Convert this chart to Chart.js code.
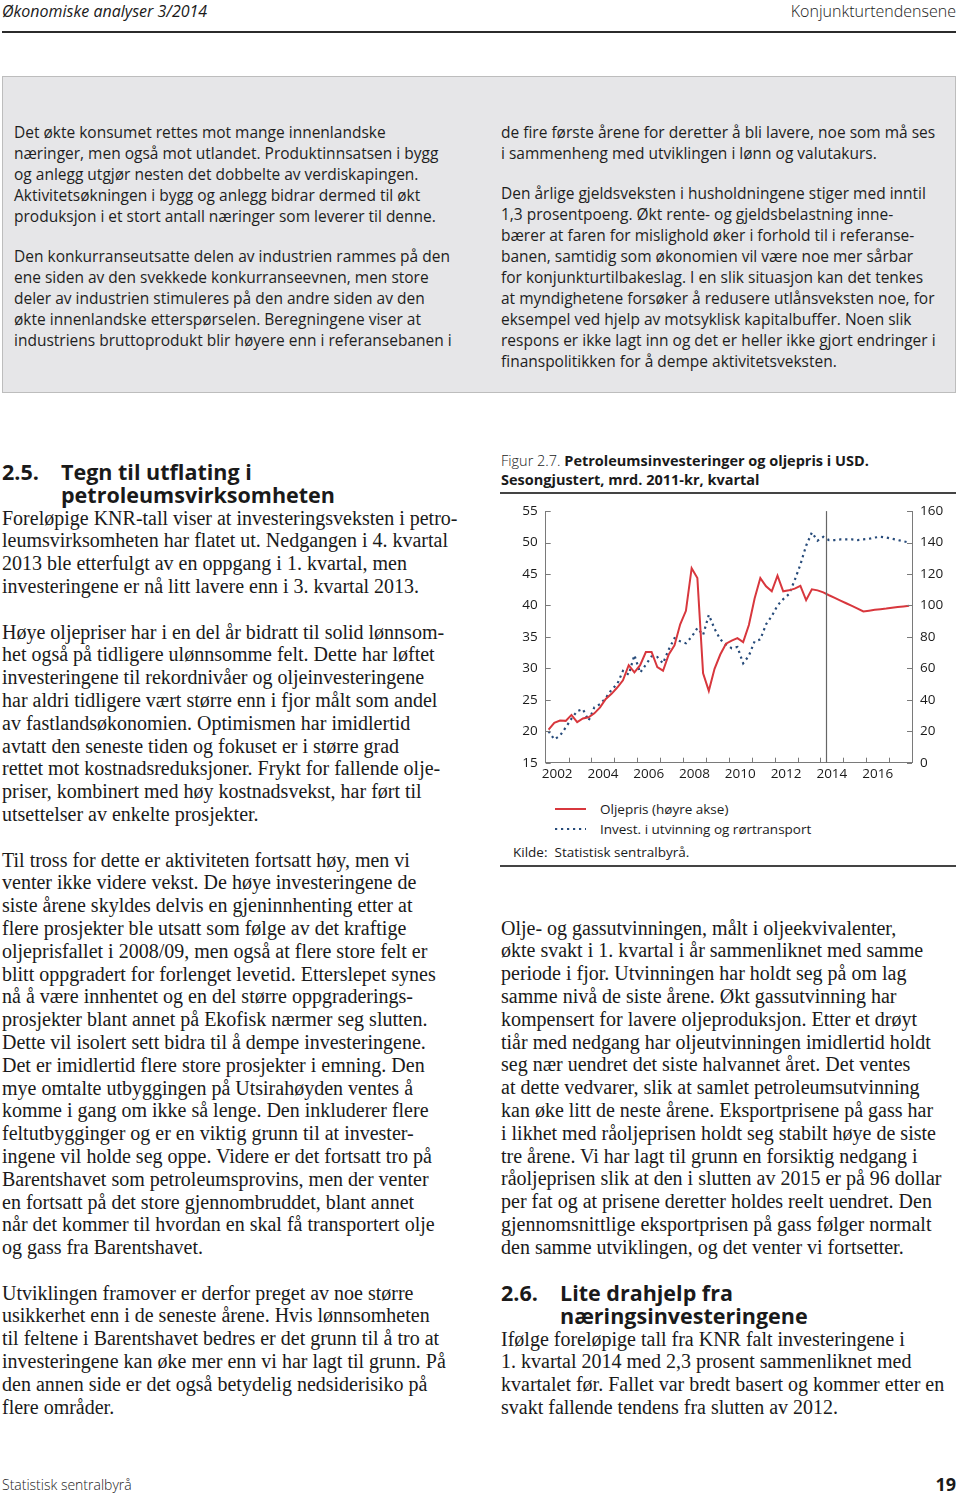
<!DOCTYPE html>
<html lang="no">
<head>
<meta charset="utf-8">
<script src="https://cdn.jsdelivr.net/npm/chart.js@4.4.1/dist/chart.umd.min.js"></script>
<style>
  body { margin: 0; width: 960px; height: 1497px; background: #fff; color: #1a1a1a; position: relative; overflow: hidden; }
  .abs { position: absolute; }
  .ln { white-space: nowrap; }
  .hdr { font-family: "Open Sans", sans-serif; font-size: 16px; top: 0; }
  .rule { position: absolute; background: #2b2b2b; }
  .box { left: 2px; top: 76px; width: 952px; height: 315px; background: #e6e6e8; border: 1px solid #bdbdbd; }
  .sans { font-family: "Open Sans", sans-serif; font-size: 15.5px; line-height: 21px; color: #1e1e1e; }
  .sans p { margin: 0 0 19px 0; }
  .serif { font-family: "Liberation Serif", serif; font-size: 20px; line-height: 22.8px; color: #1a1a1a; }
  .serif p { margin: 0 0 22.8px 0; }
  .head { font-family: "Open Sans", sans-serif; font-weight: 700; font-size: 21.5px; line-height: 23px; }
  .head .num { position: absolute; left: 0; }
  .head .txt { margin-left: 59px; }
  .fig { font-family: "Open Sans", sans-serif; font-size: 14.5px; line-height: 19px; color: #1a1a1a; }
  .fig .light { font-weight: 300; }
  .fig b { font-weight: 700; }
  .leg { font-family: "Open Sans", sans-serif; font-size: 13.5px; color: #1a1a1a; }
</style>
</head>
<body>

<div class="abs hdr ln" style="left:2px; font-style:italic;">Økonomiske analyser 3/2014</div>
<div class="abs hdr ln" style="right:4px; font-weight:300;">Konjunkturtendensene</div>
<div class="rule" style="left:2px; top:31px; width:954px; height:2px;"></div>

<div class="abs box"></div>
<div class="abs sans" style="left:14px; top:121.5px;">
  <p>
    <span class="ln">Det økte konsumet rettes mot mange innenlandske</span><br>
    <span class="ln">næringer, men også mot utlandet. Produktinnsatsen i bygg</span><br>
    <span class="ln">og anlegg utgjør nesten det dobbelte av verdiskapingen.</span><br>
    <span class="ln">Aktivitetsøkningen i bygg og anlegg bidrar dermed til økt</span><br>
    <span class="ln">produksjon i et stort antall næringer som leverer til denne.</span>
  </p>
  <p>
    <span class="ln">Den konkurranseutsatte delen av industrien rammes på den</span><br>
    <span class="ln">ene siden av den svekkede konkurranseevnen, men store</span><br>
    <span class="ln">deler av industrien stimuleres på den andre siden av den</span><br>
    <span class="ln">økte innenlandske etterspørselen. Beregningene viser at</span><br>
    <span class="ln">industriens bruttoprodukt blir høyere enn i referansebanen i</span>
  </p>
</div>
<div class="abs sans" style="left:501px; top:121.5px;">
  <p>
    <span class="ln">de fire første årene for deretter å bli lavere, noe som må ses</span><br>
    <span class="ln">i sammenheng med utviklingen i lønn og valutakurs.</span>
  </p>
  <p>
    <span class="ln">Den årlige gjeldsveksten i husholdningene stiger med inntil</span><br>
    <span class="ln">1,3 prosentpoeng. Økt rente- og gjeldsbelastning inne-</span><br>
    <span class="ln">bærer at faren for mislighold øker i forhold til i referanse-</span><br>
    <span class="ln">banen, samtidig som økonomien vil være noe mer sårbar</span><br>
    <span class="ln">for konjunkturtilbakeslag. I en slik situasjon kan det tenkes</span><br>
    <span class="ln">at myndighetene forsøker å redusere utlånsveksten noe, for</span><br>
    <span class="ln">eksempel ved hjelp av motsyklisk kapitalbuffer. Noen slik</span><br>
    <span class="ln">respons er ikke lagt inn og det er heller ikke gjort endringer i</span><br>
    <span class="ln">finanspolitikken for å dempe aktivitetsveksten.</span>
  </p>
</div>

<!-- venstre spalte -->
<div class="abs head" style="left:2px; top:459.5px; width:460px;">
  <span class="num">2.5.</span>
  <div class="txt ln">Tegn til utflating i</div>
  <div class="txt ln">petroleumsvirksomheten</div>
</div>
<div class="abs serif" style="left:2px; top:506.6px;">
  <p>
    <span class="ln">Foreløpige KNR-tall viser at investeringsveksten i petro-</span><br>
    <span class="ln">leumsvirksomheten har flatet ut. Nedgangen i 4. kvartal</span><br>
    <span class="ln">2013 ble etterfulgt av en oppgang i 1. kvartal, men</span><br>
    <span class="ln">investeringene er nå litt lavere enn i 3. kvartal 2013.</span>
  </p>
  <p>
    <span class="ln">Høye oljepriser har i en del år bidratt til solid lønnsom-</span><br>
    <span class="ln">het også på tidligere ulønnsomme felt. Dette har løftet</span><br>
    <span class="ln">investeringene til rekordnivåer og oljeinvesteringene</span><br>
    <span class="ln">har aldri tidligere vært større enn i fjor målt som andel</span><br>
    <span class="ln">av fastlandsøkonomien. Optimismen har imidlertid</span><br>
    <span class="ln">avtatt den seneste tiden og fokuset er i større grad</span><br>
    <span class="ln">rettet mot kostnadsreduksjoner. Frykt for fallende olje-</span><br>
    <span class="ln">priser, kombinert med høy kostnadsvekst, har ført til</span><br>
    <span class="ln">utsettelser av enkelte prosjekter.</span>
  </p>
  <p>
    <span class="ln">Til tross for dette er aktiviteten fortsatt høy, men vi</span><br>
    <span class="ln">venter ikke videre vekst. De høye investeringene de</span><br>
    <span class="ln">siste årene skyldes delvis en gjeninnhenting etter at</span><br>
    <span class="ln">flere prosjekter ble utsatt som følge av det kraftige</span><br>
    <span class="ln">oljeprisfallet i 2008/09, men også at flere store felt er</span><br>
    <span class="ln">blitt oppgradert for forlenget levetid. Etterslepet synes</span><br>
    <span class="ln">nå å være innhentet og en del større oppgraderings-</span><br>
    <span class="ln">prosjekter blant annet på Ekofisk nærmer seg slutten.</span><br>
    <span class="ln">Dette vil isolert sett bidra til å dempe investeringene.</span><br>
    <span class="ln">Det er imidlertid flere store prosjekter i emning. Den</span><br>
    <span class="ln">mye omtalte utbyggingen på Utsirahøyden ventes å</span><br>
    <span class="ln">komme i gang om ikke så lenge. Den inkluderer flere</span><br>
    <span class="ln">feltutbygginger og er en viktig grunn til at invester-</span><br>
    <span class="ln">ingene vil holde seg oppe. Videre er det fortsatt tro på</span><br>
    <span class="ln">Barentshavet som petroleumsprovins, men der venter</span><br>
    <span class="ln">en fortsatt på det store gjennombruddet, blant annet</span><br>
    <span class="ln">når det kommer til hvordan en skal få transportert olje</span><br>
    <span class="ln">og gass fra Barentshavet.</span>
  </p>
  <p>
    <span class="ln">Utviklingen framover er derfor preget av noe større</span><br>
    <span class="ln">usikkerhet enn i de seneste årene. Hvis lønnsomheten</span><br>
    <span class="ln">til feltene i Barentshavet bedres er det grunn til å tro at</span><br>
    <span class="ln">investeringene kan øke mer enn vi har lagt til grunn. På</span><br>
    <span class="ln">den annen side er det også betydelig nedsiderisiko på</span><br>
    <span class="ln">flere områder.</span>
  </p>
</div>

<!-- figur -->
<div class="abs fig" style="left:501px; top:451px;">
  <span class="ln"><span class="light">Figur 2.7.</span> <b>Petroleumsinvesteringer og oljepris i USD.</b></span><br>
  <span class="ln"><b>Sesongjustert, mrd. 2011-kr, kvartal</b></span>
</div>
<div class="rule" style="left:500px; top:492px; width:456px; height:1.5px; background:#444;"></div>
<div class="abs" style="left:500px; top:495px; width:460px; height:295px;">
  <canvas id="oilChart" width="460" height="295"></canvas>
</div>
<div class="abs leg" id="legend" style="left:555px; top:799px;"></div>
<div class="abs leg ln" style="left:513px; top:843px;">Kilde:&nbsp; Statistisk sentralbyrå.</div>
<div class="rule" style="left:500px; top:865px; width:456px; height:2px; background:#444;"></div>

<!-- høyre spalte -->
<div class="abs serif" style="left:501px; top:916.6px;">
  <p>
    <span class="ln">Olje- og gassutvinningen, målt i oljeekvivalenter,</span><br>
    <span class="ln">økte svakt i 1. kvartal i år sammenliknet med samme</span><br>
    <span class="ln">periode i fjor. Utvinningen har holdt seg på om lag</span><br>
    <span class="ln">samme nivå de siste årene. Økt gassutvinning har</span><br>
    <span class="ln">kompensert for lavere oljeproduksjon. Etter et drøyt</span><br>
    <span class="ln">tiår med nedgang har oljeutvinningen imidlertid holdt</span><br>
    <span class="ln">seg nær uendret det siste halvannet året. Det ventes</span><br>
    <span class="ln">at dette vedvarer, slik at samlet petroleumsutvinning</span><br>
    <span class="ln">kan øke litt de neste årene. Eksportprisene på gass har</span><br>
    <span class="ln">i likhet med råoljeprisen holdt seg stabilt høye de siste</span><br>
    <span class="ln">tre årene. Vi har lagt til grunn en forsiktig nedgang i</span><br>
    <span class="ln">råoljeprisen slik at den i slutten av 2015 er på 96 dollar</span><br>
    <span class="ln">per fat og at prisene deretter holdes reelt uendret. Den</span><br>
    <span class="ln">gjennomsnittlige eksportprisen på gass følger normalt</span><br>
    <span class="ln">den samme utviklingen, og det venter vi fortsetter.</span>
  </p>
</div>
<div class="abs head" style="left:501px; top:1280.5px; width:460px;">
  <span class="num">2.6.</span>
  <div class="txt ln">Lite drahjelp fra</div>
  <div class="txt ln">næringsinvesteringene</div>
</div>
<div class="abs serif" style="left:501px; top:1327.6px;">
  <p>
    <span class="ln">Ifølge foreløpige tall fra KNR falt investeringene i</span><br>
    <span class="ln">1. kvartal 2014 med 2,3 prosent sammenliknet med</span><br>
    <span class="ln">kvartalet før. Fallet var bredt basert og kommer etter en</span><br>
    <span class="ln">svakt fallende tendens fra slutten av 2012.</span>
  </p>
</div>

<div class="abs ln" style="left:2px; top:1475px; font-family:'Open Sans',sans-serif; font-size:14px; font-weight:300;">Statistisk sentralbyrå</div>
<div class="abs ln" style="right:4px; top:1472px; font-family:'Open Sans',sans-serif; font-size:18px; font-weight:700;">19</div>

<script>
// Kvartalstall 2002K1-2017K4 (fra 2014K2 er det prognoser)
const firstYear = 2002;
const lastYear = 2018;
const forecastStart = 2014.25;
const labelYears = [2002, 2004, 2006, 2008, 2010, 2012, 2014, 2016];
const leftTicks = [15, 20, 25, 30, 35, 40, 45, 50, 55];
const rightTicks = [0, 20, 40, 60, 80, 100, 120, 140, 160];

// Oljepris, USD per fat (høyre akse)
const oilPrice = [
  21.0, 25.4, 26.8, 26.6,
  30.4, 25.8, 28.1, 28.9,
  31.4, 35.2, 40.5, 43.8,
  47.8, 52.4, 62.0, 57.4,
  62.0, 70.4, 70.4, 60.8,
  58.5, 68.8, 74.6, 88.0,
  96.6, 123.7, 117.4, 56.8,
  45.7, 59.7, 68.8, 75.7,
  77.6, 79.2, 76.7, 87.6,
  104.4, 117.4, 112.2, 109.0,
  119.0, 109.0, 109.6, 110.7,
  112.4, 103.4, 110.3, 109.6,
  108.3, 106.5, 104.8, 103.1,
  101.4, 99.7, 98.0, 96.2,
  96.7, 97.2, 97.6, 98.0,
  98.5, 99.0, 99.4, 99.8
];

// Investeringer i utvinning og rørtransport, mrd. 2011-kr (venstre akse)
const investment = [
  20.0, 18.7, 19.3, 20.6,
  22.0, 23.2, 23.5, 21.7,
  23.8, 24.3, 25.3, 26.6,
  27.5, 29.6, 29.0, 32.1,
  29.3, 30.6, 31.9, 31.8,
  30.8, 33.0, 34.8, 34.3,
  34.0, 35.0, 36.4, 35.3,
  38.5, 36.3, 34.6, 33.8,
  33.2, 33.4, 30.8, 32.0,
  34.3, 34.6, 37.0, 38.3,
  40.0, 41.0, 41.8, 44.0,
  46.5, 49.5, 51.6, 50.3,
  50.9, 50.4, 50.4, 50.5,
  50.5, 50.5, 50.4, 50.5,
  50.6, 50.8, 50.9, 50.8,
  50.6, 50.4, 50.2, 50.0
];

const red = '#d8373d';
const blue = '#274b7a';
const axisColor = '#7a7a7a';
const tickFont = { family: 'Open Sans', size: 13.5 };

// midt i hvert kvartal
function toPoints(values) {
  return values.map((v, i) => ({ x: firstYear + (i + 0.5) / 4, y: v }));
}

// innoverpekende tick-streker og prognoselinje
const innerTicks = {
  id: 'innerTicks',
  afterDatasetsDraw(chart) {
    const { ctx, chartArea: a, scales } = chart;
    const len = 5;
    ctx.save();
    ctx.strokeStyle = axisColor;
    ctx.lineWidth = 1;
    ctx.beginPath();
    for (let yr = firstYear + 1; yr < lastYear; yr++) {
      const px = Math.round(scales.x.getPixelForValue(yr)) + 0.5;
      ctx.moveTo(px, a.bottom);
      ctx.lineTo(px, a.bottom - len);
    }
    leftTicks.forEach(v => {
      const py = Math.round(scales.y.getPixelForValue(v)) + 0.5;
      ctx.moveTo(a.left, py);
      ctx.lineTo(a.left + len, py);
    });
    rightTicks.forEach(v => {
      const py = Math.round(scales.y1.getPixelForValue(v)) + 0.5;
      ctx.moveTo(a.right, py);
      ctx.lineTo(a.right - len, py);
    });
    ctx.stroke();

    ctx.strokeStyle = '#666';
    ctx.lineWidth = 1.2;
    ctx.beginPath();
    const fx = Math.round(scales.x.getPixelForValue(forecastStart)) + 0.5;
    ctx.moveTo(fx, a.top);
    ctx.lineTo(fx, a.bottom);
    ctx.stroke();
    ctx.restore();
  }
};

const ctx = document.getElementById('oilChart').getContext('2d');
const oilChart = new Chart(ctx, {
  type: 'line',
  data: {
    datasets: [
      {
        label: 'Oljepris (høyre akse)',
        data: toPoints(oilPrice),
        yAxisID: 'y1',
        borderColor: red,
        borderWidth: 2,
        pointRadius: 0,
        tension: 0
      },
      {
        label: 'Invest. i utvinning og rørtransport',
        data: toPoints(investment),
        yAxisID: 'y',
        borderColor: blue,
        borderWidth: 2.2,
        borderDash: [2.2, 3.8],
        pointRadius: 0,
        tension: 0
      }
    ]
  },
  options: {
    responsive: false,
    animation: false,
    layout: { padding: { top: 13.3, left: 0, right: 0, bottom: 0 } },
    plugins: { legend: { display: false }, tooltip: { enabled: false } },
    scales: {
      x: {
        type: 'linear',
        min: firstYear,
        max: lastYear,
        afterBuildTicks: scale => { scale.ticks = labelYears.map(v => ({ value: v + 0.5 })); },
        afterFit: scale => { scale.height = 27.3; },
        grid: { display: false, drawTicks: false },
        border: { display: true, color: axisColor, width: 1 },
        ticks: {
          autoSkip: false,
          maxRotation: 0,
          padding: 3,
          color: '#1a1a1a',
          font: tickFont,
          callback: v => String(Math.floor(v))
        }
      },
      y: {
        position: 'left',
        min: 15,
        max: 55,
        afterBuildTicks: scale => { scale.ticks = leftTicks.map(v => ({ value: v })); },
        afterFit: scale => { scale.width = 45.7; },
        grid: { display: false, drawTicks: false },
        border: { display: true, color: axisColor, width: 1 },
        ticks: { padding: 8, color: '#1a1a1a', font: tickFont }
      },
      y1: {
        position: 'right',
        min: 0,
        max: 160,
        afterBuildTicks: scale => { scale.ticks = rightTicks.map(v => ({ value: v })); },
        afterFit: scale => { scale.width = 48; },
        grid: { display: false, drawTicks: false },
        border: { display: true, color: axisColor, width: 1 },
        ticks: { padding: 8, color: '#1a1a1a', font: tickFont }
      }
    }
  },
  plugins: [innerTicks]
});

// forklaring
const legendEl = document.getElementById('legend');
oilChart.data.datasets.forEach(ds => {
  const row = document.createElement('div');
  row.style.cssText = 'display:flex; align-items:center; height:20px; white-space:nowrap;';
  const dash = ds.borderDash ? ds.borderDash.join(' ') : 'none';
  row.innerHTML = '<svg width="45" height="20"><line x1="0" y1="10" x2="31" y2="10" stroke="' +
    ds.borderColor + '" stroke-width="' + ds.borderWidth + '" stroke-dasharray="' + dash + '"/></svg>' +
    '<span>' + ds.label + '</span>';
  legendEl.appendChild(row);
});
</script>
</body>
</html>
